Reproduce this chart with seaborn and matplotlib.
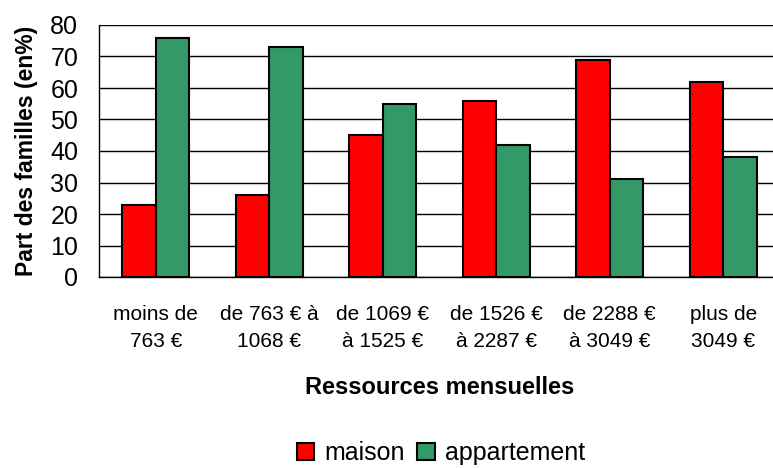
import pandas as pd
import numpy as np
import matplotlib
matplotlib.use("Agg")
import matplotlib.pyplot as plt
import seaborn as sns

# data
categories = ["moins de\n763 €", "de 763 € à\n1068 €", "de 1069 €\nà 1525 €",
              "de 1526 €\nà 2287 €", "de 2288 €\nà 3049 €", "plus de\n3049 €"]
maison = [23, 26, 45, 56, 69, 62]
appartement = [76, 73, 55, 42, 31, 38]
yticks = [0, 10, 20, 30, 40, 50, 60, 70, 80]

df = pd.DataFrame({
    "ressources": categories * 2,
    "part": maison + appartement,
    "type": ["maison"] * len(maison) + ["appartement"] * len(appartement),
})

sns.set_style("white")
plt.rcParams['font.family'] = ['Liberation Sans', 'DejaVu Sans']
plt.rcParams['text.color'] = "black"
plt.rcParams['xtick.color'] = "black"
plt.rcParams['ytick.color'] = "black"
plt.rcParams['axes.labelcolor'] = "black"

fig = plt.figure(figsize=(7.73, 4.68), dpi=100)
ax = fig.add_axes([99 / 773, 1 - 277 / 468, 681 / 773, 252 / 468])

sns.barplot(data=df, x="ressources", y="part", hue="type",
            palette={"maison": "#FF0000", "appartement": "#339966"},
            width=0.59, gap=0, edgecolor="black", linewidth=1.5,
            saturation=1, ax=ax, zorder=3)

ax.set_ylim(0, 80)
ax.set_xlim(-0.5, 5.5)
ax.set_yticks(yticks)
ax.tick_params(axis="y", labelsize=18, length=5, width=1, pad=10)
ax.set_xticks(range(len(categories)))
ax.set_xticklabels(categories, fontsize=15, linespacing=1.55)
ax.tick_params(axis="x", which="major", length=0, pad=20)
ax.set_xticks(np.arange(-0.5, 6, 1), minor=True)
ax.tick_params(axis="x", which="minor", length=4, width=1)

ax.grid(axis="y", color="black", linewidth=1, zorder=0)
ax.set_axisbelow(True)
for s in ["top", "right"]:
    ax.spines[s].set_visible(False)
for s in ["left", "bottom"]:
    ax.spines[s].set_color("black")
    ax.spines[s].set_linewidth(1)

ax.set_ylabel("Part des familles (en%)", fontsize=16.5, fontweight="bold", labelpad=9)
ax.set_xlabel("Ressources mensuelles", fontsize=17, fontweight="bold", labelpad=18)

handles, labels = ax.get_legend_handles_labels()
ax.get_legend().remove()
fig.legend(handles, labels, loc="center", bbox_to_anchor=(441 / 773, 1 - 453 / 468),
           ncol=2, frameon=False, fontsize=18, handlelength=0.7, handleheight=0.7,
           handletextpad=0.4, columnspacing=0.5)

fig.savefig("out.png", dpi=100)
